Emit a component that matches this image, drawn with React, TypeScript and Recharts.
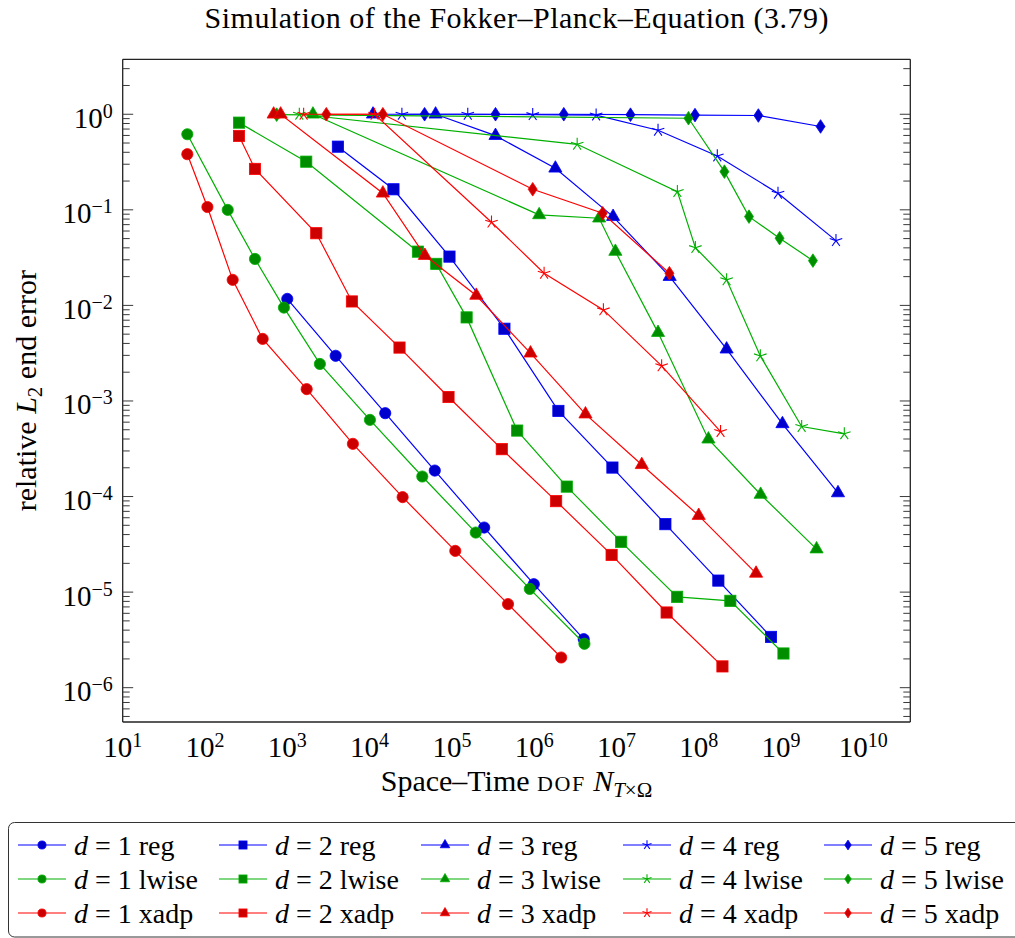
import React from 'react';
import { ScatterChart, Scatter, XAxis, YAxis, Label, Legend } from 'recharts';

const FONT = '"Liberation Serif", "Times New Roman", serif';
const W = 1015;
const H = 938;

// axis ranges (log scale)
const X_MIN = 10;
const X_MAX = 3.72e10;
const Y_MIN = 4.375e-7;
const Y_MAX = 3.758;

const xMajorTicks = [1e1, 1e2, 1e3, 1e4, 1e5, 1e6, 1e7, 1e8, 1e9, 1e10];
const yMajorTicks = [1e-6, 1e-5, 1e-4, 1e-3, 1e-2, 1e-1, 1e0];
const minorMultipliers = [1, 2, 3, 4, 5, 6, 7, 8, 9];
const xDecades = [1e1, 1e2, 1e3, 1e4, 1e5, 1e6, 1e7, 1e8, 1e9, 1e10];
const yDecades = [1e-7, 1e-6, 1e-5, 1e-4, 1e-3, 1e-2, 1e-1, 1e0];

const xAllTicks = xDecades
  .flatMap((d) => minorMultipliers.map((m) => m * d))
  .filter((v) => v >= X_MIN && v <= X_MAX);
const yAllTicks = yDecades
  .flatMap((d) => minorMultipliers.map((m) => m * d))
  .filter((v) => v >= Y_MIN && v <= Y_MAX);

// ---- data: d = 1 ----
const d1RegX = [1.0e3, 3.87e3, 1.55e4, 6.2e4, 2.47e5, 9.9e5, 4.0e6];
const d1RegY = [1.17e-2, 2.97e-3, 7.45e-4, 1.87e-4, 4.74e-5, 1.21e-5, 3.22e-6];
const d1LwiseX = [61, 189, 405, 910, 2.49e3, 1.01e4, 4.37e4, 1.95e5, 8.85e5, 4.08e6];
const d1LwiseY = [0.618, 0.0998, 0.0306, 9.48e-3, 2.44e-3, 6.34e-4, 1.62e-4, 4.2e-5, 1.08e-5, 2.88e-6];
const d1XadpX = [61, 107, 217, 502, 1.72e3, 6.27e3, 2.52e4, 1.1e5, 4.81e5, 2.13e6];
const d1XadpY = [0.382, 0.107, 0.0185, 4.46e-3, 1.33e-3, 3.56e-4, 9.86e-5, 2.7e-5, 7.49e-6, 2.07e-6];

// ---- data: d = 2 ----
const d2RegX = [4.12e3, 1.95e4, 9.35e4, 4.35e5, 1.97e6, 8.93e6, 3.93e7, 1.73e8, 7.55e8];
const d2RegY = [0.458, 0.164, 0.0324, 5.7e-3, 7.87e-4, 2.01e-4, 5.14e-5, 1.32e-5, 3.4e-6];
const d2LwiseX = [259, 1.7e3, 3.87e4, 6.46e4, 1.51e5, 6.22e5, 2.49e6, 1.14e7, 5.46e7, 2.42e8, 1.07e9];
const d2LwiseY = [0.817, 0.319, 0.0365, 0.0272, 7.49e-3, 4.9e-4, 1.27e-4, 3.36e-5, 8.93e-6, 8.11e-6, 2.28e-6];
const d2XadpX = [259, 405, 2.25e3, 6.1e3, 2.31e4, 9.1e4, 4.04e5, 1.85e6, 8.73e6, 4.07e7, 1.94e8];
const d2XadpY = [0.593, 0.268, 0.0569, 0.011, 3.62e-3, 1.1e-3, 3.13e-4, 8.95e-5, 2.45e-5, 6.12e-6, 1.67e-6];

// ---- data: d = 3 ----
const d3RegX = [1.1e4, 6.34e4, 3.39e5, 1.81e6, 9.1e6, 4.43e7, 2.18e8, 1.04e9, 4.92e9];
const d3RegY = [1.0, 1.0, 0.597, 0.272, 0.0849, 0.02, 3.48e-3, 5.76e-4, 1.09e-4];
const d3LwiseX = [2.05e3, 1.15e6, 6.16e6, 9.7e6, 3.2e7, 1.31e8, 5.65e8, 2.7e9];
const d3LwiseY = [1.0, 0.0885, 0.0817, 0.0366, 5.19e-3, 3.98e-4, 1.05e-4, 2.82e-5];
const d3XadpX = [683, 830, 1.45e4, 4.7e4, 1.98e5, 9.02e5, 4.2e6, 2.03e7, 9.98e7, 4.97e8];
const d3XadpY = [1.0, 1.0, 0.149, 0.0332, 0.0127, 3.16e-3, 7.28e-4, 2.15e-4, 6.32e-5, 1.57e-5];

// ---- data: d = 4 ----
const d4RegX = [2.47e4, 1.56e5, 9.6e5, 5.66e6, 3.2e7, 1.68e8, 9.18e8, 4.65e9];
const d4RegY = [1.0, 1.0, 0.99, 0.98, 0.68, 0.366, 0.149, 0.0476];
const d4LwiseX = [1.4e3, 3.33e6, 5.5e7, 9.1e7, 2.18e8, 5.6e8, 1.78e9, 5.87e9];
const d4LwiseY = [1.0, 0.485, 0.155, 0.0402, 0.0185, 2.96e-3, 5.4e-4, 4.53e-4];
const d4XadpX = [1.58e3, 1.15e4, 3.03e5, 1.32e6, 6.94e6, 3.54e7, 1.84e8];
const d4XadpY = [1.0, 1.0, 0.0742, 0.0217, 8.97e-3, 2.33e-3, 4.78e-4];

// ---- data: d = 5 ----
const d5RegX = [4.66e4, 3.39e5, 2.29e6, 1.48e7, 9.0e7, 5.3e8, 3.02e9];
const d5RegY = [1.0, 1.0, 1.0, 0.99, 0.98, 0.97, 0.745];
const d5LwiseX = [743, 7.5e7, 2.05e8, 4.08e8, 9.6e8, 2.44e9];
const d5LwiseY = [0.99, 0.908, 0.251, 0.0849, 0.0505, 0.0294];
const d5XadpX = [2.98e3, 1.45e4, 9.6e5, 6.8e6, 4.4e7];
const d5XadpY = [1.0, 1.0, 0.164, 0.092, 0.0217];

type Kind = 'circle' | 'square' | 'triangle' | 'star' | 'diamond';

const COLORS: Record<string, { line: string; fill: string }> = {
  blue: { line: '#0000ff', fill: '#0000cc' },
  green: { line: '#00b000', fill: '#008d00' },
  red: { line: '#ff0000', fill: '#cc0000' },
};

const kinds: Kind[] = ['circle', 'square', 'triangle', 'star', 'diamond'];
const methods = ['reg', 'lwise', 'xadp'];
const methodColor: Record<string, string> = { reg: 'blue', lwise: 'green', xadp: 'red' };

const seriesXs = [
  [d1RegX, d2RegX, d3RegX, d4RegX, d5RegX],
  [d1LwiseX, d2LwiseX, d3LwiseX, d4LwiseX, d5LwiseX],
  [d1XadpX, d2XadpX, d3XadpX, d4XadpX, d5XadpX],
];
const seriesYs = [
  [d1RegY, d2RegY, d3RegY, d4RegY, d5RegY],
  [d1LwiseY, d2LwiseY, d3LwiseY, d4LwiseY, d5LwiseY],
  [d1XadpY, d2XadpY, d3XadpY, d4XadpY, d5XadpY],
];

const series = methods.flatMap((m, mi) =>
  kinds.map((k, di) => ({
    key: `d${di + 1}-${m}`,
    d: di + 1,
    method: m,
    kind: k,
    color: COLORS[methodColor[m]],
    data: seriesXs[mi][di].map((x, i) => ({ x, y: seriesYs[mi][di][i] })),
  }))
);

function Marker({ kind, cx, cy, fill, stroke, s = 1 }: any) {
  if (cx == null || cy == null || isNaN(cx) || isNaN(cy)) return null;
  switch (kind) {
    case 'circle':
      return <circle cx={cx} cy={cy} r={5.6 * s} fill={fill} stroke={stroke} strokeWidth={0.8} />;
    case 'square':
      return (
        <rect x={cx - 5.6 * s} y={cy - 5.6 * s} width={11.2 * s} height={11.2 * s} fill={fill} stroke={stroke} strokeWidth={0.8} />
      );
    case 'triangle': {
      const r = 7.6 * s;
      const pts = `${cx},${cy - r} ${cx - 0.866 * r},${cy + 0.5 * r} ${cx + 0.866 * r},${cy + 0.5 * r}`;
      return <polygon points={pts} fill={fill} stroke={stroke} strokeWidth={0.8} />;
    }
    case 'diamond': {
      const hw = 4.5 * s;
      const hh = 6.8 * s;
      const pts = `${cx},${cy - hh} ${cx + hw},${cy} ${cx},${cy + hh} ${cx - hw},${cy}`;
      return <polygon points={pts} fill={fill} stroke={stroke} strokeWidth={0.8} />;
    }
    case 'star': {
      const r = 6.6 * s;
      const arms = [0, 1, 2, 3, 4].map((i) => {
        const a = (-90 + 72 * i) * (Math.PI / 180);
        return <line key={i} x1={cx} y1={cy} x2={cx + r * Math.cos(a)} y2={cy + r * Math.sin(a)} stroke={stroke} strokeWidth={1.1} />;
      });
      return <g>{arms}</g>;
    }
    default:
      return null;
  }
}

const isMajor = (v: number) => Math.abs(Math.log10(v) - Math.round(Math.log10(v))) < 1e-6;
const MAJOR_LEN = 10.5;
const MINOR_LEN = 7;
const TICK_COLOR = '#3a3a3a';

const BottomTick = ({ x, y, payload }: any) => {
  const len = isMajor(payload.value) ? MAJOR_LEN : MINOR_LEN;
  return <line x1={x} x2={x} y1={y} y2={y - len} stroke={TICK_COLOR} strokeWidth={1} />;
};
const TopTick = ({ x, y, payload }: any) => {
  const len = isMajor(payload.value) ? MAJOR_LEN : MINOR_LEN;
  return <line x1={x} x2={x} y1={y} y2={y + len} stroke={TICK_COLOR} strokeWidth={1} />;
};
const LeftTick = ({ x, y, payload }: any) => {
  const len = isMajor(payload.value) ? MAJOR_LEN : MINOR_LEN;
  return <line x1={x} x2={x + len} y1={y} y2={y} stroke={TICK_COLOR} strokeWidth={1} />;
};
const RightTick = ({ x, y, payload }: any) => {
  const len = isMajor(payload.value) ? MAJOR_LEN : MINOR_LEN;
  return <line x1={x} x2={x - len} y1={y} y2={y} stroke={TICK_COLOR} strokeWidth={1} />;
};

const XTickLabel = ({ x, y, payload }: any) => {
  const e = Math.round(Math.log10(payload.value));
  return (
    <text x={x} y={y + 35} textAnchor="middle" fontFamily={FONT} fontSize={29} fill="#000">
      <tspan>10</tspan>
      <tspan dy={-10} fontSize={20}>{String(e)}</tspan>
    </text>
  );
};

const YTickLabel = ({ x, y, payload }: any) => {
  const e = Math.round(Math.log10(payload.value));
  const exp = e < 0 ? `\u2212${-e}` : String(e);
  return (
    <text x={x} y={y + 13.5} textAnchor="end" fontFamily={FONT} fontSize={29} fill="#000">
      <tspan>10</tspan>
      <tspan dy={-10} fontSize={20}>{exp}</tspan>
    </text>
  );
};

const XAxisTitle = ({ viewBox }: any) => {
  const cx = viewBox.x + viewBox.width / 2;
  const cy = viewBox.y + 69;
  return (
    <text x={cx} y={cy} textAnchor="middle" fontFamily={FONT} fontSize={30} fill="#000">
      <tspan>{'Space\u2013Time '}</tspan>
      <tspan fontSize={22} letterSpacing={1.5}>DOF</tspan>
      <tspan> </tspan>
      <tspan fontStyle="italic">N</tspan>
      <tspan fontSize={21} dy={6} fontStyle="italic">T</tspan>
      <tspan fontSize={21}>{'\u00d7\u03a9'}</tspan>
    </text>
  );
};

const YAxisTitle = ({ viewBox }: any) => {
  const cx = viewBox.x - 26.5;
  const cy = viewBox.y + viewBox.height / 2;
  return (
    <text x={cx} y={cy} textAnchor="middle" fontFamily={FONT} fontSize={30} fill="#000" transform={`rotate(-90, ${cx}, ${cy})`}>
      <tspan>{'relative '}</tspan>
      <tspan fontStyle="italic">L</tspan>
      <tspan fontSize={21} dy={6}>2</tspan>
      <tspan dy={-6}>{' end error'}</tspan>
    </text>
  );
};

const LEG_COL_X = [34, 235, 437, 639, 840];
const LEG_ROW_Y = [23, 57, 91];

const renderLegend = () => (
  <svg width={1007} height={116} style={{ display: 'block' }}>
    <rect x={0.5} y={0.5} width={1030} height={114.5} rx={6} ry={6} fill="#fff" stroke="#333" strokeWidth={1} />
    {series.map((s) => {
      const mi = methods.indexOf(s.method);
      const cx = LEG_COL_X[s.d - 1];
      const cy = LEG_ROW_Y[mi];
      return (
        <g key={s.key}>
          <line x1={cx - 24} x2={cx + 24} y1={cy} y2={cy} stroke={s.color.line} strokeWidth={1.2} />
          <Marker kind={s.kind} cx={cx} cy={cy} fill={s.color.fill} stroke={s.color.line} s={0.72} />
          <text x={cx + 32} y={cy + 9.5} fontFamily={FONT} fontSize={28} fill="#000">
            <tspan fontStyle="italic">d</tspan>
            <tspan>{` = ${s.d} ${s.method}`}</tspan>
          </text>
        </g>
      );
    })}
  </svg>
);

const PLOT_LEFT = 122.7;
const PLOT_TOP = 59.3;
const PLOT_RIGHT = 910.3;
const PLOT_BOTTOM = 722;
const Y_AXIS_W = 60;
const X_AXIS_H = 60;

export default function App() {
  return (
    <div style={{ position: 'absolute', left: 0, top: 0, width: W, height: H, overflow: 'hidden', background: '#fff' }}>
      <svg width={W} height={50} style={{ position: 'absolute', left: 0, top: 0 }}>
        <text
          x={(PLOT_LEFT + PLOT_RIGHT) / 2}
          y={28}
          textAnchor="middle"
          fontFamily={FONT}
          fontSize={30}
          fill="#000"
          textLength={624}
          lengthAdjust="spacing"
        >
          {'Simulation of the Fokker\u2013Planck\u2013Equation (3.79)'}
        </text>
      </svg>
      <ScatterChart
        width={W}
        height={H}
        margin={{
          top: PLOT_TOP,
          right: W - PLOT_RIGHT,
          bottom: H - PLOT_BOTTOM - X_AXIS_H,
          left: PLOT_LEFT - Y_AXIS_W,
        }}
      >
        <XAxis
          xAxisId="x"
          dataKey="x"
          type="number"
          scale="log"
          domain={[X_MIN, X_MAX]}
          allowDataOverflow
          ticks={xMajorTicks}
          interval={0}
          tickLine={false}
          tickSize={0}
          tickMargin={0}
          tick={<XTickLabel />}
          axisLine={{ stroke: '#222', strokeWidth: 1.3 }}
          height={X_AXIS_H}
        >
          <Label content={<XAxisTitle />} />
        </XAxis>
        <XAxis
          xAxisId="xb"
          type="number"
          scale="log"
          domain={[X_MIN, X_MAX]}
          allowDataOverflow
          ticks={xAllTicks}
          interval={0}
          orientation="bottom"
          mirror
          tickLine={false}
          tickSize={0}
          tickMargin={0}
          tick={<BottomTick />}
          axisLine={false}
          height={1}
        />
        <XAxis
          xAxisId="xt"
          type="number"
          scale="log"
          domain={[X_MIN, X_MAX]}
          allowDataOverflow
          ticks={xAllTicks}
          interval={0}
          orientation="top"
          mirror
          tickLine={false}
          tickSize={0}
          tickMargin={0}
          tick={<TopTick />}
          axisLine={{ stroke: '#222', strokeWidth: 1.3 }}
          height={1}
        />
        <YAxis
          yAxisId="y"
          dataKey="y"
          type="number"
          scale="log"
          domain={[Y_MIN, Y_MAX]}
          allowDataOverflow
          ticks={yMajorTicks}
          interval={0}
          tickLine={false}
          tickSize={0}
          tickMargin={10}
          tick={<YTickLabel />}
          axisLine={{ stroke: '#222', strokeWidth: 1.3 }}
          width={Y_AXIS_W}
        >
          <Label content={<YAxisTitle />} />
        </YAxis>
        <YAxis
          yAxisId="yl"
          type="number"
          scale="log"
          domain={[Y_MIN, Y_MAX]}
          allowDataOverflow
          ticks={yAllTicks}
          interval={0}
          orientation="left"
          mirror
          tickLine={false}
          tickSize={0}
          tickMargin={0}
          tick={<LeftTick />}
          axisLine={false}
          width={1}
        />
        <YAxis
          yAxisId="yr"
          type="number"
          scale="log"
          domain={[Y_MIN, Y_MAX]}
          allowDataOverflow
          ticks={yAllTicks}
          interval={0}
          orientation="right"
          mirror
          tickLine={false}
          tickSize={0}
          tickMargin={0}
          tick={<RightTick />}
          axisLine={{ stroke: '#222', strokeWidth: 1.3 }}
          width={1}
        />
        <Legend
          layout="vertical"
          align="center"
          verticalAlign="middle"
          wrapperStyle={{ position: 'absolute', left: 8, top: 822, width: 1007, height: 116 }}
          content={renderLegend}
        />
        {series.map((s) => (
          <Scatter
            key={s.key}
            name={`d = ${s.d} ${s.method}`}
            data={s.data}
            xAxisId="x"
            yAxisId="y"
            fill={s.color.fill}
            line={{ stroke: s.color.line, strokeWidth: 1.2 }}
            lineType="joint"
            isAnimationActive={false}
            shape={(p: any) => <Marker kind={s.kind} cx={p.cx} cy={p.cy} fill={s.color.fill} stroke={s.color.line} />}
          />
        ))}
      </ScatterChart>
    </div>
  );
}
